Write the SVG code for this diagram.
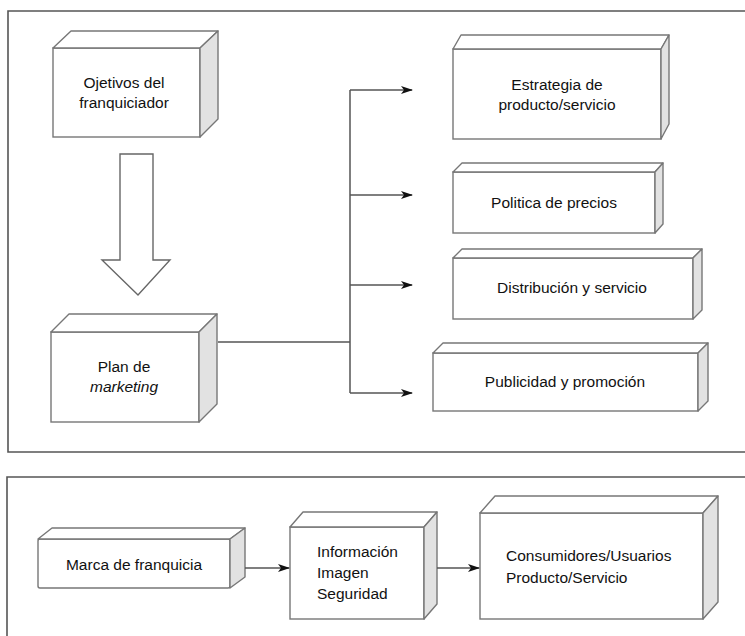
<svg xmlns="http://www.w3.org/2000/svg" width="745" height="636" viewBox="0 0 745 636">
<style>
.frame{fill:none;stroke:#555;stroke-width:1.6}
.front{fill:#fff;stroke:#777;stroke-width:1.4}
.top{fill:#fff;stroke:#777;stroke-width:1.4;stroke-linejoin:round}
.side{fill:#e2e2e2;stroke:#777;stroke-width:1.4;stroke-linejoin:round}
.t{font-family:"Liberation Sans",Arial,sans-serif;font-size:15.5px;fill:#111}
.c{text-anchor:middle}
.conn{fill:none;stroke:#555;stroke-width:1.5}
.big{fill:#fff;stroke:#666;stroke-width:1.4}
</style>
<defs>
<marker id="ah" markerWidth="12" markerHeight="8" refX="11" refY="4" orient="auto" markerUnits="userSpaceOnUse">
<path d="M0,0 L12,4 L0,8 L3,4 Z" fill="#111"/>
</marker>
</defs>
<rect width="745" height="636" fill="#fff"/>
<path class="frame" d="M750,11 H8 V452 H750"/>
<path class="frame" d="M750,477 H7 V640"/>

<g id="n-objetivos">
<rect class="front" x="53" y="48" width="147" height="89"/>
<polygon class="top" points="53,48 71,31 218,31 200,48"/>
<polygon class="side" points="200,48 218,31 218,119 200,137"/>
<text class="t c" x="124" y="88">Ojetivos del</text>
<text class="t c" x="124" y="108">franquiciador</text>
</g>

<g id="n-plan">
<rect class="front" x="51" y="332" width="148" height="90"/>
<polygon class="top" points="51,332 69,314 217,314 199,332"/>
<polygon class="side" points="199,332 217,314 217,404 199,422"/>
<text class="t c" x="124" y="372">Plan de</text>
<text class="t c" x="124" y="392" font-style="italic">marketing</text>
</g>

<g id="n-estrategia">
<rect class="front" x="453" y="49" width="208" height="90"/>
<polygon class="top" points="453,49 461,35 669,35 661,49"/>
<polygon class="side" points="661,49 669,35 669,124 661,139"/>
<text class="t c" x="557" y="90">Estrategia de</text>
<text class="t c" x="557" y="110">producto/servicio</text>
</g>

<g id="n-politica">
<rect class="front" x="453" y="172" width="202" height="61"/>
<polygon class="top" points="453,172 462,163 663,163 655,172"/>
<polygon class="side" points="655,172 663,163 663,224 655,233"/>
<text class="t c" x="554" y="208">Politica de precios</text>
</g>

<g id="n-distribucion">
<rect class="front" x="453" y="258" width="240" height="61"/>
<polygon class="top" points="453,258 462,249 702,249 693,258"/>
<polygon class="side" points="693,258 702,249 702,310 693,319"/>
<text class="t c" x="572" y="293">Distribución y servicio</text>
</g>

<g id="n-publicidad">
<rect class="front" x="433" y="353" width="265" height="58"/>
<polygon class="top" points="433,353 443,343 708,343 698,353"/>
<polygon class="side" points="698,353 708,343 708,401 698,411"/>
<text class="t c" x="565" y="387">Publicidad y promoción</text>
</g>

<g id="n-marca">
<rect class="front" x="38" y="539" width="192" height="49" rx="2"/>
<polygon class="top" points="38,539 52,528 245,528 230,539"/>
<polygon class="side" points="230,539 245,528 245,577 230,588"/>
<text class="t c" x="134" y="570">Marca de franquicia</text>
</g>

<g id="n-informacion">
<rect class="front" x="290" y="527" width="134" height="92"/>
<polygon class="top" points="290,527 303,512 437,512 424,527"/>
<polygon class="side" points="424,527 437,512 437,604 424,619"/>
<text class="t" x="317" y="557">Información</text>
<text class="t" x="317" y="578">Imagen</text>
<text class="t" x="317" y="599">Seguridad</text>
</g>

<g id="n-consumidores">
<rect class="front" x="480" y="513" width="223" height="106"/>
<polygon class="top" points="480,513 495,496 718,496 703,513"/>
<polygon class="side" points="703,513 718,496 718,602 703,619"/>
<text class="t" x="506" y="561">Consumidores/Usuarios</text>
<text class="t" x="506" y="583">Producto/Servicio</text>
</g>

<g id="connectors">
<polygon class="big" points="120,154 153,154 153,260 170,260 138,295 102,260 120,260"/>
<path class="conn" d="M218,342 H350"/>
<path class="conn" d="M350,90 V393"/>
<path class="conn" d="M350,90 H412" marker-end="url(#ah)"/>
<path class="conn" d="M350,195 H412" marker-end="url(#ah)"/>
<path class="conn" d="M350,285 H412" marker-end="url(#ah)"/>
<path class="conn" d="M350,393 H412" marker-end="url(#ah)"/>
<path class="conn" d="M245,568 H289" marker-end="url(#ah)"/>
<path class="conn" d="M437,568 H479" marker-end="url(#ah)"/>
</g>
</svg>
